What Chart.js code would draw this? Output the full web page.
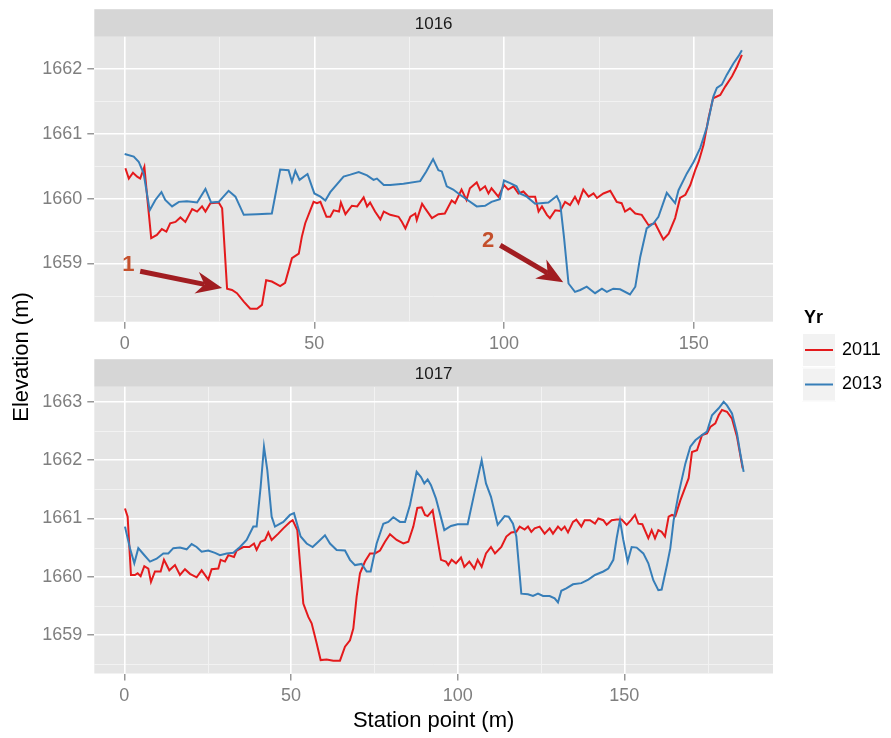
<!DOCTYPE html>
<html><head><meta charset="utf-8">
<script src="https://cdn.jsdelivr.net/npm/chart.js@4.4.1/dist/chart.umd.min.js"></script>
<style>
html,body{margin:0;padding:0;background:#fff;}
#wrap{position:relative;width:891px;height:738px;overflow:hidden;background:#fff;}
#wrap canvas{position:absolute;left:0;top:0;}
</style></head><body>
<div id="wrap"><canvas id="c1" width="891" height="738"></canvas><canvas id="c2" width="891" height="738"></canvas></div>
<script>
// ---------- data ----------
const panels = ["1016", "1017"];
const years = ["2011", "2013"];
const seriesColors = ["#E41A1C", "#377EB8"];

const st1016_2011 = [0.2,1.1,2.2,3.3,4.1,5.2,6.1,7.0,8.5,9.8,11.0,12.0,13.4,14.7,16.0,17.8,19.1,20.4,21.3,22.6,24.8,25.7,27.0,28.3,29.6,31.4,33.1,34.9,36.2,37.3,38.8,41.0,42.3,44.1,45.9,46.7,47.6,49.8,50.7,51.6,53.2,54.2,55.1,56.5,57.0,58.2,59.9,61.3,63.0,63.9,64.7,66.0,67.4,68.3,70.0,72.2,73.1,74.0,75.3,76.6,77.0,78.4,79.2,81.0,82.7,84.4,86.2,87.1,88.8,90.1,91.0,92.8,93.7,95.0,95.9,96.7,98.5,100,101.1,102.5,103.8,105.1,106.4,108.2,109.1,110.0,111.3,112.1,113.5,114.8,116.1,117.4,118.7,119.6,120.9,122.3,123.6,124.5,126.2,128.0,129.7,131.0,131.9,133.2,134.6,136.3,138.1,139.8,142.0,143.4,145.1,146.4,147.8,149.1,150.4,151.3,152.6,153.9,155.1,157.0,158.3,160.1,161.4,162.7];
const el1016_2011 = [1660.47,1660.31,1660.40,1660.34,1660.31,1660.49,1659.93,1659.39,1659.44,1659.53,1659.49,1659.62,1659.64,1659.71,1659.64,1659.84,1659.80,1659.88,1659.80,1659.93,1659.94,1659.85,1658.61,1658.59,1658.54,1658.41,1658.30,1658.30,1658.36,1658.74,1658.72,1658.65,1658.70,1659.08,1659.15,1659.41,1659.62,1659.95,1659.93,1659.95,1659.72,1659.72,1659.82,1659.80,1659.94,1659.76,1659.89,1659.88,1660.02,1659.88,1659.94,1659.80,1659.68,1659.80,1659.75,1659.72,1659.64,1659.54,1659.72,1659.77,1659.67,1659.92,1659.85,1659.70,1659.76,1659.77,1659.97,1659.93,1660.14,1659.98,1660.16,1660.25,1660.13,1660.19,1660.08,1660.16,1660.03,1660.21,1660.14,1660.19,1660.08,1660.11,1660.03,1660.03,1659.80,1659.88,1659.75,1659.70,1659.82,1659.81,1659.95,1659.90,1660.03,1659.93,1660.14,1660.03,1660.08,1660.01,1660.08,1660.12,1659.95,1659.93,1659.80,1659.85,1659.77,1659.75,1659.59,1659.62,1659.37,1659.46,1659.70,1660.01,1660.06,1660.21,1660.44,1660.57,1660.83,1661.24,1661.55,1661.60,1661.73,1661.89,1662.04,1662.22];

const st1016_2013 = [0,2.4,3.7,5.0,6.6,8.1,9.7,10.7,12.5,14.3,16.4,19.1,21.3,22.8,24.8,27.4,29.2,31.4,34.9,38.8,41.0,43.2,44.1,45.0,46.1,48.2,50.0,51.6,52.9,54.2,57.7,59.5,61.7,63.9,65.6,66.5,68.3,70.0,73.5,77.9,79.5,81.3,82.7,83.6,84.9,86.6,88.4,90.1,92.8,95.0,96.7,98.9,100,101.6,103.3,104.2,106.0,108.2,111.7,113.9,114.8,115.8,117.0,118.7,120.1,121.8,124.0,125.8,127.1,128.8,130.6,133.2,134.6,135.9,137.6,139.4,140.7,142.9,145.1,146.0,148.2,150.0,151.7,153.5,155.2,156.1,157.4,158.7,160.5,161.8,162.7];
const el1016_2013 = [1660.69,1660.65,1660.57,1660.39,1659.82,1659.98,1660.10,1659.98,1659.88,1659.95,1659.96,1659.94,1660.15,1659.94,1659.95,1660.12,1660.03,1659.75,1659.76,1659.77,1660.45,1660.44,1660.26,1660.43,1660.29,1660.38,1660.08,1660.03,1659.97,1660.10,1660.34,1660.37,1660.41,1660.36,1660.29,1660.31,1660.21,1660.21,1660.23,1660.27,1660.42,1660.61,1660.44,1660.42,1660.19,1660.14,1660.06,1659.99,1659.88,1659.89,1659.95,1659.99,1660.28,1660.24,1660.19,1660.08,1660.03,1659.92,1659.94,1660.04,1659.93,1659.41,1658.69,1658.56,1658.59,1658.64,1658.54,1658.61,1658.56,1658.61,1658.60,1658.52,1658.64,1659.10,1659.54,1659.62,1659.72,1660.09,1659.93,1660.13,1660.39,1660.57,1660.78,1661.11,1661.58,1661.71,1661.76,1661.91,1662.09,1662.20,1662.29];

const st1017_2011 = [0.2,1.0,2.0,3.2,4.0,4.9,6.0,7.2,8.0,9.2,10.9,11.9,13.5,15.2,16.7,18.2,19.7,21.7,23.2,25.2,26.2,28.2,28.9,30.2,31.2,32.9,33.7,35.7,37.5,38.9,39.7,40.9,42.2,43.2,44.2,46.2,47.7,49.7,50.5,51.9,53.7,55.2,56.2,57.7,58.9,60.7,62.7,64.7,66.2,67.7,68.7,69.7,70.7,72.2,73.7,75.2,76.7,78.2,79.7,81.7,83.7,85.2,86.7,87.9,89.2,90.2,91.0,92.5,93.5,95.0,96.5,97.2,98.2,99.5,101.0,102.0,103.5,105.0,106.0,107.2,108.5,110.0,111.2,113.1,114.6,116.1,117.6,118.6,120.1,121.1,122.1,123.1,124.6,126.1,127.6,128.6,130.1,131.1,132.1,133.1,134.6,135.6,137.1,138.1,139.7,141.2,142.2,143.7,144.7,146.2,147.7,149.2,150.7,152.0,153.2,154.2,155.4,157.2,158.2,159.2,160.2,161.2,162.2,163.3,164.3,165.3,166.8,169.3,170.3,171.8,173.3,174.8,175.8,177.3,178.3,179.3,180.8,182.3,183.8,185.5];
const el1017_2011 = [1661.17,1661.03,1660.03,1660.03,1660.06,1660.01,1660.18,1660.14,1659.91,1660.09,1660.09,1660.29,1660.11,1660.20,1660.03,1660.13,1660.05,1659.99,1660.11,1659.95,1660.13,1660.14,1660.29,1660.26,1660.37,1660.34,1660.45,1660.51,1660.51,1660.57,1660.46,1660.60,1660.63,1660.76,1660.63,1660.74,1660.83,1660.94,1660.97,1660.80,1659.54,1659.31,1659.20,1658.86,1658.57,1658.58,1658.56,1658.56,1658.80,1658.91,1659.11,1659.66,1660.06,1660.26,1660.40,1660.40,1660.45,1660.60,1660.73,1660.63,1660.57,1660.60,1660.86,1661.18,1661.19,1661.06,1661.04,1661.14,1660.80,1660.29,1660.26,1660.20,1660.29,1660.23,1660.33,1660.17,1660.26,1660.14,1660.29,1660.17,1660.40,1660.51,1660.40,1660.51,1660.69,1660.76,1660.77,1660.86,1660.81,1660.86,1660.77,1660.83,1660.86,1660.74,1660.83,1660.74,1660.86,1660.80,1660.86,1660.76,1660.94,1660.98,1660.86,1660.97,1660.97,1660.91,1661.00,1660.97,1660.89,1660.97,1660.98,1660.98,1660.89,1660.97,1661.06,1660.91,1660.90,1660.66,1660.80,1660.66,1660.80,1660.77,1660.69,1661.03,1661.06,1661.04,1661.31,1661.69,1662.14,1662.17,1662.43,1662.46,1662.57,1662.63,1662.77,1662.86,1662.83,1662.71,1662.40,1661.86];

const st1017_2013 = [0.2,1.7,3.0,4.2,5.7,7.7,9.7,11.7,13.2,14.7,16.7,18.7,20.2,21.7,23.2,25.2,27.2,28.7,30.7,32.7,34.7,36.7,38.7,39.7,40.9,41.9,42.9,44.2,45.2,47.7,49.7,50.9,52.9,54.7,56.5,58.2,60.2,61.7,63.7,66.2,67.7,69.2,71.2,72.7,73.9,75.7,77.7,79.2,80.7,82.7,84.2,85.7,87.7,89.0,90.0,91.0,92.0,93.5,96.0,98.0,100,103.0,105.0,107.2,108.5,110.0,112.0,114.1,115.3,116.6,117.6,119.1,121.1,122.6,124.1,125.6,127.6,129.1,130.1,131.1,132.6,134.6,137.1,139.2,141.2,143.7,145.2,146.7,147.7,148.7,149.7,151.0,152.2,153.7,155.7,157.2,158.7,160.2,161.2,162.8,163.8,164.8,166.3,168.3,169.8,171.3,173.3,174.8,176.3,178.3,179.8,180.8,182.3,183.8,184.8,185.8];
const el1017_2013 = [1660.86,1660.49,1660.23,1660.49,1660.39,1660.26,1660.31,1660.40,1660.40,1660.49,1660.50,1660.47,1660.56,1660.51,1660.43,1660.45,1660.41,1660.37,1660.40,1660.41,1660.51,1660.63,1660.86,1660.86,1661.54,1662.23,1661.83,1661.03,1660.86,1660.94,1661.06,1661.09,1660.69,1660.57,1660.51,1660.60,1660.71,1660.57,1660.46,1660.45,1660.29,1660.20,1660.22,1660.09,1660.09,1660.57,1660.91,1660.94,1661.02,1660.94,1660.94,1661.23,1661.80,1661.71,1661.60,1661.67,1661.57,1661.34,1660.80,1660.87,1660.90,1660.90,1661.43,1662.00,1661.60,1661.37,1660.89,1661.04,1661.03,1660.91,1660.69,1659.71,1659.70,1659.67,1659.71,1659.67,1659.67,1659.63,1659.56,1659.76,1659.80,1659.87,1659.89,1659.95,1660.03,1660.09,1660.14,1660.29,1660.66,1660.97,1660.63,1660.26,1660.51,1660.50,1660.40,1660.23,1659.94,1659.77,1659.78,1660.20,1660.49,1660.97,1661.43,1661.94,1662.23,1662.34,1662.43,1662.49,1662.77,1662.89,1663.00,1662.94,1662.80,1662.46,1662.11,1661.80];

// tick labels
const xTicks = [0, 50, 100, 150];
const yTicks1016 = [1659, 1660, 1661, 1662];
const yTicks1017 = [1659, 1660, 1661, 1662, 1663];

// annotations (panel 1016), in data units
const arrowLabels = ["1", "2"];
const arrowFromX = [4.1, 99.0];
const arrowFromY = [1658.88, 1659.28];
const arrowToX = [25.7, 115.6];
const arrowToY = [1658.62, 1658.71];
const arrowLabelX = [1.0, 95.8];
const arrowLabelY = [1658.97, 1659.34];

// ---------- helpers ----------
const FONT = "'Liberation Sans', Arial, Helvetica, sans-serif";
Chart.defaults.font.family = FONT;

function pts(xs, ys) { return xs.map((x, i) => ({ x: x, y: ys[i] })); }
function minorOf(t) {
  const step = t[1] - t[0];
  const out = [t[0] - step / 2];
  t.forEach(v => out.push(v + step / 2));
  return out;
}

const facetPlugin = {
  id: 'facet',
  beforeDraw(chart, args, o) {
    const { ctx, chartArea: a, scales } = chart;
    const x = scales.x, y = scales.y;
    ctx.save();
    ctx.fillStyle = '#E5E5E5';
    ctx.fillRect(a.left, a.top, a.right - a.left, a.bottom - a.top);
    ctx.strokeStyle = '#F2F2F2';
    ctx.lineWidth = 1;
    minorOf(o.xt).forEach(v => {
      if (v > x.min && v < x.max) {
        const p = Math.round(x.getPixelForValue(v)) + 0.5;
        ctx.beginPath(); ctx.moveTo(p, a.top); ctx.lineTo(p, a.bottom); ctx.stroke();
      }
    });
    minorOf(o.yt).forEach(v => {
      if (v > y.min && v < y.max) {
        const p = Math.round(y.getPixelForValue(v)) + 0.5;
        ctx.beginPath(); ctx.moveTo(a.left, p); ctx.lineTo(a.right, p); ctx.stroke();
      }
    });
    // strip
    ctx.fillStyle = '#D6D6D6';
    ctx.fillRect(a.left, a.top - o.stripH, a.right - a.left, o.stripH);
    ctx.fillStyle = '#1A1A1A';
    ctx.font = '17px ' + FONT;
    ctx.textAlign = 'center';
    ctx.textBaseline = 'middle';
    ctx.fillText(o.title, (a.left + a.right) / 2, a.top - o.stripH / 2 + 1);
    ctx.restore();
  }
};

const arrowPlugin = {
  id: 'arrows',
  afterDatasetsDraw(chart, args, o) {
    if (!o.on) return;
    const { ctx, scales: { x, y } } = chart;
    ctx.save();
    arrowLabels.forEach((lab, i) => {
      const x0 = x.getPixelForValue(arrowFromX[i]), y0 = y.getPixelForValue(arrowFromY[i]);
      const x1 = x.getPixelForValue(arrowToX[i]), y1 = y.getPixelForValue(arrowToY[i]);
      const ang = Math.atan2(y1 - y0, x1 - x0);
      const L = 26, W = 11, N = 8;
      ctx.strokeStyle = '#A11D21';
      ctx.fillStyle = '#A11D21';
      ctx.lineWidth = 5;
      ctx.lineCap = 'butt';
      ctx.beginPath();
      ctx.moveTo(x0, y0);
      ctx.lineTo(x1 - (L - N) * Math.cos(ang), y1 - (L - N) * Math.sin(ang));
      ctx.stroke();
      ctx.save();
      ctx.translate(x1, y1);
      ctx.rotate(ang);
      ctx.beginPath();
      ctx.moveTo(0, 0); ctx.lineTo(-L, -W); ctx.lineTo(-L + N, 0); ctx.lineTo(-L, W);
      ctx.closePath(); ctx.fill();
      ctx.restore();
      ctx.fillStyle = '#C4502C';
      ctx.font = 'bold 22px ' + FONT;
      ctx.textAlign = 'center';
      ctx.textBaseline = 'middle';
      ctx.fillText(lab, x.getPixelForValue(arrowLabelX[i]), y.getPixelForValue(arrowLabelY[i]));
    });
    ctx.restore();
  }
};

const decorPlugin = {
  id: 'decor',
  afterDraw(chart, args, o) {
    if (!o.on) return;
    const ctx = chart.ctx;
    ctx.save();
    // y axis title
    ctx.fillStyle = '#000';
    ctx.font = '22px ' + FONT;
    ctx.textAlign = 'center';
    ctx.textBaseline = 'middle';
    ctx.translate(22, 357);
    ctx.rotate(-Math.PI / 2);
    ctx.fillText('Elevation (m)', 0, 0);
    ctx.restore();
    // legend
    ctx.save();
    ctx.fillStyle = '#000';
    ctx.font = 'bold 18px ' + FONT;
    ctx.textAlign = 'left';
    ctx.textBaseline = 'middle';
    ctx.fillText('Yr', 804, 318);
    years.forEach((yr, i) => {
      const top = 333 + i * 34.5;
      ctx.fillStyle = '#F2F2F2';
      ctx.fillRect(802, top, 34, 34);
      ctx.strokeStyle = '#FFFFFF';
      ctx.lineWidth = 1;
      ctx.strokeRect(802.5, top + 0.5, 33, 33);
      ctx.strokeStyle = seriesColors[i];
      ctx.lineWidth = 2;
      ctx.beginPath();
      ctx.moveTo(805, top + 17); ctx.lineTo(833, top + 17);
      ctx.stroke();
      ctx.fillStyle = '#000';
      ctx.font = '18px ' + FONT;
      ctx.fillText(yr, 842, top + 17);
    });
    ctx.restore();
  }
};

function makeChart(id, cfg) {
  const datasets = years.map((yr, i) => ({
    label: yr,
    data: pts(cfg.xs[i], cfg.ys[i]),
    borderColor: seriesColors[i],
    backgroundColor: seriesColors[i],
    borderWidth: 2,
    pointRadius: 0,
    tension: 0,
    fill: false,
    order: i === 1 ? 0 : 1
  }));
  return new Chart(document.getElementById(id), {
    type: 'line',
    data: { datasets: datasets },
    plugins: [facetPlugin, arrowPlugin, decorPlugin],
    options: {
      responsive: false,
      animation: false,
      devicePixelRatio: 1,
      events: [],
      layout: { padding: cfg.padding },
      plugins: {
        legend: { display: false },
        tooltip: { enabled: false },
        facet: { title: cfg.title, xt: xTicks, yt: cfg.yt, stripH: 27.5 },
        arrows: { on: cfg.arrows },
        decor: { on: cfg.decor }
      },
      scales: {
        x: {
          type: 'linear',
          min: cfg.xmin, max: cfg.xmax,
          afterBuildTicks: s => { s.ticks = xTicks.map(v => ({ value: v })); },
          afterFit: s => { s.height = cfg.xh; },
          border: { display: false },
          grid: { color: '#FFFFFF', lineWidth: 1.6, tickColor: '#7F7F7F', tickLength: 7, tickWidth: 1.2 },
          ticks: { color: '#7F7F7F', font: { size: 18 }, padding: 5, maxRotation: 0, autoSkip: false,
                   callback: v => String(v) },
          title: cfg.xtitle ? { display: true, text: 'Station point (m)', color: '#000',
                   font: { size: 22 }, padding: { top: 0, bottom: 4 } } : { display: false }
        },
        y: {
          type: 'linear',
          min: cfg.ymin, max: cfg.ymax,
          afterBuildTicks: s => { s.ticks = cfg.yt.map(v => ({ value: v })); },
          afterFit: s => { s.width = 94.3; },
          border: { display: false },
          grid: { color: '#FFFFFF', lineWidth: 1.6, tickColor: '#7F7F7F', tickLength: 7, tickWidth: 1.2 },
          ticks: { color: '#7F7F7F', font: { size: 18 }, padding: 5, autoSkip: false,
                   callback: v => String(v) }
        }
      }
    }
  });
}

makeChart('c1', {
  title: panels[0],
  xs: [st1016_2011, st1016_2013], ys: [el1016_2011, el1016_2013],
  xmin: -8.0, xmax: 170.9, ymin: 1658.10, ymax: 1662.50,
  yt: yTicks1016,
  padding: { top: 36.7, right: 118, bottom: 378, left: 0 },
  xh: 38.3, xtitle: false, arrows: true, decor: false
});
makeChart('c2', {
  title: panels[1],
  xs: [st1017_2011, st1017_2013], ys: [el1017_2011, el1017_2013],
  xmin: -9.0, xmax: 194.6, ymin: 1658.34, ymax: 1663.26,
  yt: yTicks1017,
  padding: { top: 386.7, right: 118, bottom: 0, left: 0 },
  xh: 64.5, xtitle: true, arrows: false, decor: true
});
</script>
</body></html>
